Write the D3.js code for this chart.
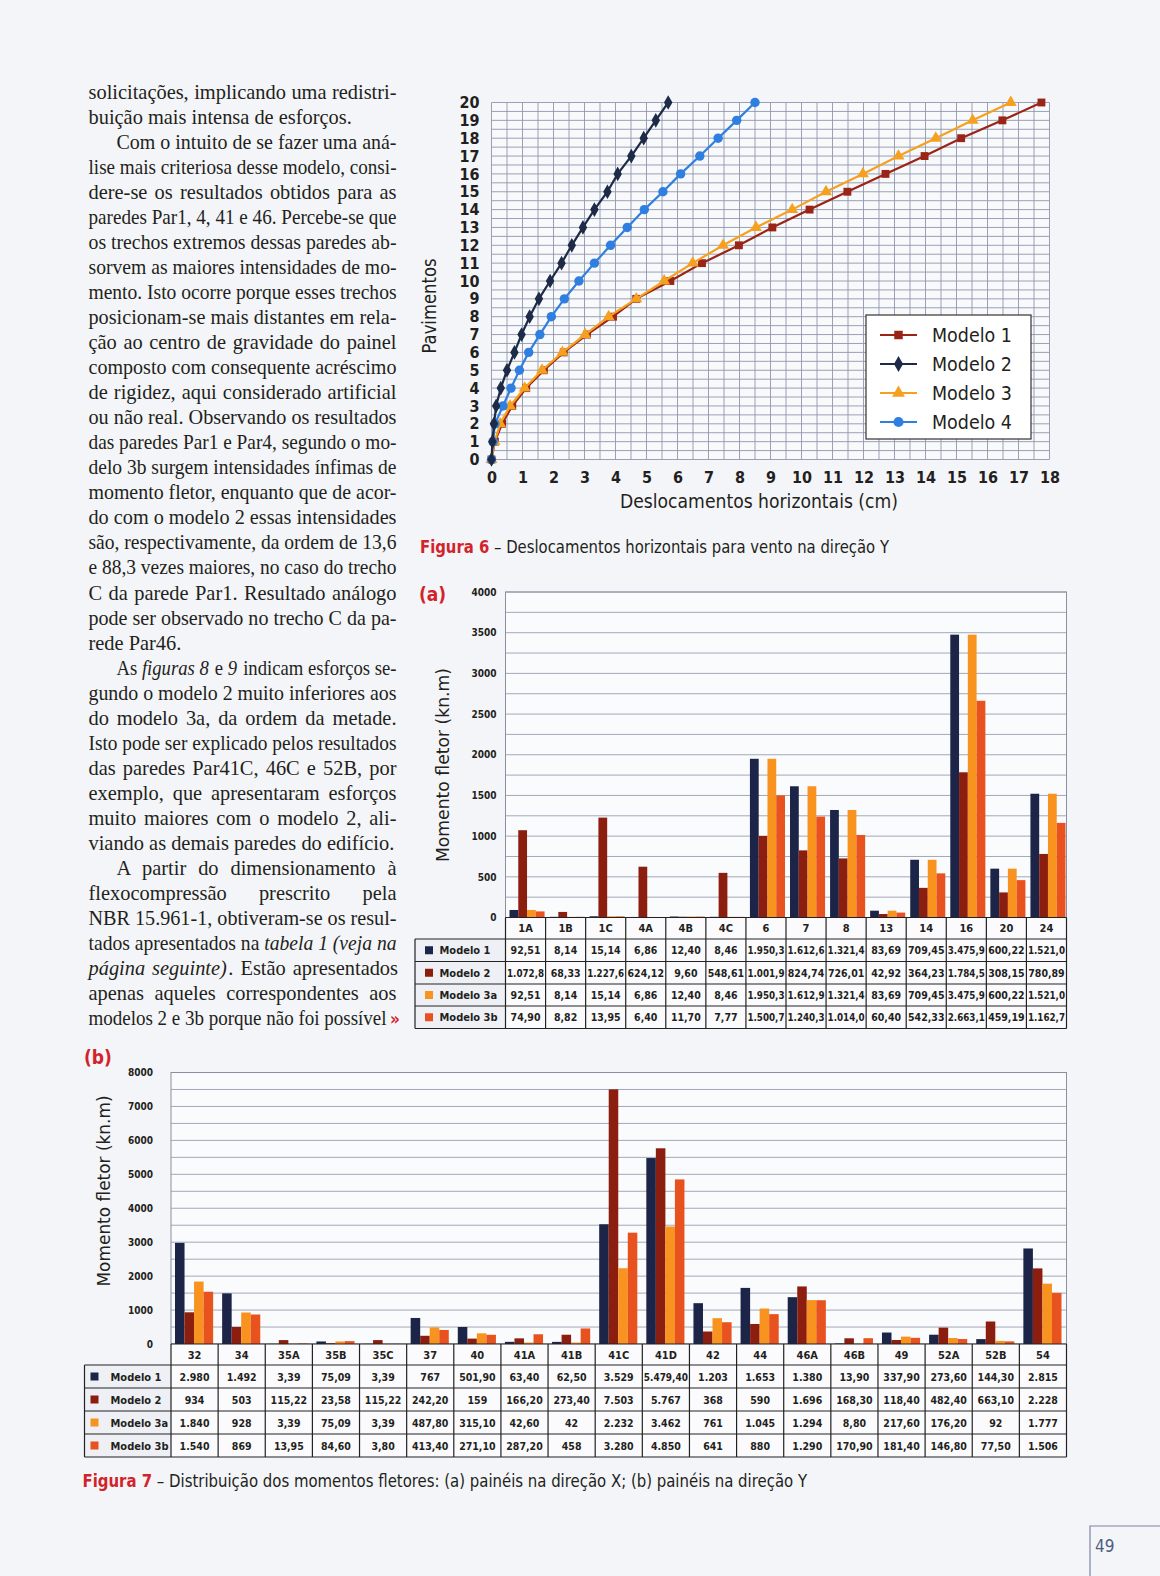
<!DOCTYPE html>
<html><head><meta charset="utf-8">
<script src="https://cdn.jsdelivr.net/npm/d3@7/dist/d3.min.js"></script>
<style>
html,body{margin:0;padding:0;background:#f4f5f8;}
svg{display:block;}
</style></head><body>
<svg id="page" width="1160" height="1576"></svg>
<script>
// ---------------- DATA ----------------
// Figure 6: horizontal displacements (cm) per floor
const floors = d3.range(0, 21);
const modelo1 = [0,0.11,0.34,0.67,1.12,1.69,2.33,3.08,3.92,4.67,5.77,6.79,7.98,9.06,10.26,11.48,12.71,13.97,15.15,16.48,17.74];
const modelo2 = [0,0.03,0.08,0.15,0.30,0.50,0.74,0.97,1.23,1.53,1.89,2.26,2.59,2.95,3.32,3.74,4.07,4.51,4.91,5.30,5.70];
const modelo3 = [0,0.10,0.28,0.60,1.07,1.63,2.29,3.02,3.78,4.67,5.57,6.49,7.47,8.53,9.70,10.79,11.98,13.13,14.33,15.52,16.75];
const modelo4 = [0,0.05,0.11,0.37,0.63,0.90,1.20,1.56,1.93,2.35,2.82,3.32,3.84,4.38,4.93,5.53,6.10,6.72,7.31,7.91,8.50];
const lineNames = ["Modelo 1","Modelo 2","Modelo 3","Modelo 4"];
const xTicks6 = d3.range(0, 19);
const yTicks6 = d3.range(0, 21);

// Figure 7(a): panels in X direction (kN.m), table text as printed
const catsA = ["1A","1B","1C","4A","4B","4C","6","7","8","13","14","16","20","24"];
const a_m1  = ["92,51","8,14","15,14","6,86","12,40","8,46","1.950,3","1.612,6","1.321,4","83,69","709,45","3.475,9","600,22","1.521,0"];
const a_m2  = ["1.072,8","68,33","1.227,6","624,12","9,60","548,61","1.001,9","824,74","726,01","42,92","364,23","1.784,5","308,15","780,89"];
const a_m3a = ["92,51","8,14","15,14","6,86","12,40","8,46","1.950,3","1.612,9","1.321,4","83,69","709,45","3.475,9","600,22","1.521,0"];
const a_m3b = ["74,90","8,82","13,95","6,40","11,70","7,77","1.500,7","1.240,3","1.014,0","60,40","542,33","2.663,1","459,19","1.162,7"];
const yTicksA = [0,500,1000,1500,2000,2500,3000,3500,4000];

// Figure 7(b): panels in Y direction (kN.m)
const catsB = ["32","34","35A","35B","35C","37","40","41A","41B","41C","41D","42","44","46A","46B","49","52A","52B","54"];
const b_m1  = ["2.980","1.492","3,39","75,09","3,39","767","501,90","63,40","62,50","3.529","5.479,40","1.203","1.653","1.380","13,90","337,90","273,60","144,30","2.815"];
const b_m2  = ["934","503","115,22","23,58","115,22","242,20","159","166,20","273,40","7.503","5.767","368","590","1.696","168,30","118,40","482,40","663,10","2.228"];
const b_m3a = ["1.840","928","3,39","75,09","3,39","487,80","315,10","42,60","42","2.232","3.462","761","1.045","1.294","8,80","217,60","176,20","92","1.777"];
const b_m3b = ["1.540","869","13,95","84,60","3,80","413,40","271,10","287,20","458","3.280","4.850","641","880","1.290","170,90","181,40","146,80","77,50","1.506"];
const yTicksB = [0,1000,2000,3000,4000,5000,6000,7000,8000];
const barNames = ["Modelo 1","Modelo 2","Modelo 3a","Modelo 3b"];

// ---------------- STYLE ----------------
const lineColors = ["#9a2416","#1d2a48","#f6a01f","#2f7fe0"];
const lineSymbols = [d3.symbolSquare, d3.symbolDiamond, d3.symbolTriangle, d3.symbolCircle];
const barColors = ["#1c2547","#8c1e0f","#f7931e","#e8521f"];
const RED = "#d2232a";
const INK = "#231f20";
const SANS = "'DejaVu Sans Condensed','DejaVu Sans',sans-serif";
const SANSW = "'DejaVu Sans','Noto Sans',sans-serif";
const SERIF = "'Liberation Serif','DejaVu Serif',serif";
const parse = s => +s.replace(/\./g, "").replace(",", ".");

const svg = d3.select("#page");

// ---------------- BODY TEXT ----------------
const bodyLines = [
 ["solicitações, implicando uma redistri-",0,1],
 ["buição mais intensa de esforços.",0,0],
 ["Com o intuito de se fazer uma aná-",1,1],
 ["lise mais criteriosa desse modelo, consi-",0,1],
 ["dere-se os resultados obtidos para as",0,1],
 ["paredes Par1, 4, 41 e 46. Percebe-se que",0,1],
 ["os trechos extremos dessas paredes ab-",0,1],
 ["sorvem as maiores intensidades de mo-",0,1],
 ["mento. Isto ocorre porque esses trechos",0,1],
 ["posicionam-se mais distantes em rela-",0,1],
 ["ção ao centro de gravidade do painel",0,1],
 ["composto com consequente acréscimo",0,1],
 ["de rigidez, aqui considerado artificial",0,1],
 ["ou não real. Observando os resultados",0,1],
 ["das paredes Par1 e Par4, segundo o mo-",0,1],
 ["delo 3b surgem intensidades ínfimas de",0,1],
 ["momento fletor, enquanto que de acor-",0,1],
 ["do com o modelo 2 essas intensidades",0,1],
 ["são, respectivamente, da ordem de 13,6",0,1],
 ["e 88,3 vezes maiores, no caso do trecho",0,1],
 ["C da parede Par1. Resultado análogo",0,1],
 ["pode ser observado no trecho C da pa-",0,1],
 ["rede Par46.",0,0],
 ["As _figuras 8_ e _9_ indicam esforços se-",1,1],
 ["gundo o modelo 2 muito inferiores aos",0,1],
 ["do modelo 3a, da ordem da metade.",0,1],
 ["Isto pode ser explicado pelos resultados",0,1],
 ["das paredes Par41C, 46C e 52B, por",0,1],
 ["exemplo, que apresentaram esforços",0,1],
 ["muito maiores com o modelo 2, ali-",0,1],
 ["viando as demais paredes do edifício.",0,0],
 ["A partir do dimensionamento à",1,1],
 ["flexocompressão prescrito pela",0,1],
 ["NBR 15.961-1, obtiveram-se os resul-",0,1],
 ["tados apresentados na _tabela 1 (veja na_",0,1],
 ["_página seguinte)_. Estão apresentados",0,1],
 ["apenas aqueles correspondentes aos",0,1],
 ["modelos 2 e 3b porque não foi possível",0,2]
];
const bodyG = svg.append("g").attr("font-family", SERIF).attr("font-size", 20.4).attr("fill", INK);
bodyLines.forEach((ln, i) => {
  const [str, indent, just] = ln;
  const x0 = indent ? 116.5 : 88.5;
  const x1 = just === 2 ? 386.5 : 396.5;
  const y = 98.5 + i * 25.05;
  const t = bodyG.append("text").attr("x", x0).attr("y", y);
  str.split("_").forEach((p, k) => {
    if (!p.length) return;
    const ts = t.append("tspan").text(p);
    if (k % 2 === 1) ts.attr("font-style", "italic");
    else if (k > 0) ts.attr("dx", 1.5);
  });
  if (just) {
    const nat = t.node().getComputedTextLength();
    const spaces = (str.match(/ /g) || []).length;
    const extra = (x1 - x0) - nat;
    if (extra >= 0 && spaces > 0) t.attr("word-spacing", extra / spaces);
    else t.attr("textLength", x1 - x0).attr("lengthAdjust", "spacingAndGlyphs");
  }
  if (just === 2) {
    bodyG.append("text").attr("x", 390).attr("y", y).attr("fill", RED).attr("font-family", SANS)
      .attr("font-weight", "bold").attr("font-size", 17).text("»");
  }
});

// ---------------- FIGURE 6 ----------------
const lx = d3.scaleLinear().domain([0, 18]).range([491.5, 1049.5]);
const ly = d3.scaleLinear().domain([0, 20]).range([459.5, 102.5]);
const g6 = svg.append("g");
g6.append("rect").attr("x", lx(0)).attr("y", ly(20)).attr("width", lx(18) - lx(0)).attr("height", ly(0) - ly(20)).attr("fill", "#f8f9fb");
g6.append("g").selectAll("line").data(d3.range(0, 18.01, 0.5)).join("line")
  .attr("x1", d => lx(d)).attr("x2", d => lx(d)).attr("y1", ly(0)).attr("y2", ly(20))
  .attr("stroke", "#8f96ae").attr("stroke-width", 0.9);
g6.append("g").selectAll("line").data(d3.range(0, 20.01, 0.5)).join("line")
  .attr("y1", d => ly(d)).attr("y2", d => ly(d)).attr("x1", lx(0)).attr("x2", lx(18))
  .attr("stroke", "#8f96ae").attr("stroke-width", 0.9);

const ax6y = g6.append("g").attr("transform", `translate(${lx(0)},0)`)
  .call(d3.axisLeft(ly).tickValues(yTicks6).tickSize(0).tickPadding(12).tickFormat(d3.format("d")));
ax6y.select(".domain").remove();
ax6y.selectAll("text").attr("font-family", SANS).attr("font-weight", "bold").attr("font-size", 16).attr("fill", INK);
const ax6x = g6.append("g").attr("transform", `translate(0,${ly(0)})`)
  .call(d3.axisBottom(lx).tickValues(xTicks6).tickSize(0).tickPadding(12).tickFormat(d3.format("d")));
ax6x.select(".domain").remove();
ax6x.selectAll("text").attr("font-family", SANS).attr("font-weight", "bold").attr("font-size", 16).attr("fill", INK);

g6.append("text").attr("x", 759).attr("y", 508).attr("text-anchor", "middle")
  .attr("font-family", SANS).attr("font-size", 19).attr("fill", INK)
  .attr("textLength", 278).attr("lengthAdjust", "spacingAndGlyphs")
  .text("Deslocamentos horizontais (cm)");
g6.append("text").attr("transform", "translate(436,306) rotate(-90)").attr("text-anchor", "middle")
  .attr("font-family", SANS).attr("font-size", 19).attr("fill", INK)
  .attr("textLength", 95).attr("lengthAdjust", "spacingAndGlyphs")
  .text("Pavimentos");

const series6 = [modelo1, modelo2, modelo3, modelo4];
const lineGen = d3.line().x(d => lx(d[0])).y(d => ly(d[1]));
const drawOrder = [0, 2, 3, 1];
drawOrder.forEach(s => {
  const pts = series6[s].map((v, i) => [v, floors[i]]);
  g6.append("path").attr("d", lineGen(pts)).attr("fill", "none").attr("stroke", lineColors[s]).attr("stroke-width", 2.2);
  g6.append("g").selectAll("path").data(pts).join("path")
    .attr("transform", d => `translate(${lx(d[0])},${ly(d[1])})`)
    .attr("d", d3.symbol().type(lineSymbols[s]).size(s === 3 ? 70 : 62))
    .attr("fill", lineColors[s]);
});
// legend
const lg = g6.append("g");
lg.append("rect").attr("x", 866).attr("y", 315).attr("width", 165).attr("height", 124)
  .attr("fill", "#ffffff").attr("stroke", "#333").attr("stroke-width", 1.2);
lineNames.forEach((n, i) => {
  const y = 335 + i * 29;
  lg.append("line").attr("x1", 880).attr("x2", 917).attr("y1", y).attr("y2", y).attr("stroke", lineColors[i]).attr("stroke-width", 2.2);
  lg.append("path").attr("transform", `translate(898.5,${y})`).attr("d", d3.symbol().type(lineSymbols[i]).size(i === 3 ? 80 : 72)).attr("fill", lineColors[i]);
  lg.append("text").attr("x", 932).attr("y", y + 7).attr("font-family", SANSW).attr("font-size", 19).attr("fill", INK)
    .attr("textLength", 80).attr("lengthAdjust", "spacingAndGlyphs").text(n);
});

// caption fig 6
const c6 = svg.append("text").attr("x", 420).attr("y", 553).attr("font-family", SANS).attr("font-size", 17)
  .attr("textLength", 469).attr("lengthAdjust", "spacingAndGlyphs").attr("fill", INK);
c6.append("tspan").attr("fill", RED).attr("font-weight", "bold").text("Figura 6");
c6.append("tspan").text(" – Deslocamentos horizontais para vento na direção Y");

// ---------------- BAR CHART + TABLE helper ----------------
function barChart(opt) {
  const { cats, series, yTicks, ymax, left, right, top, bottom, legLeft, rowTops, headerBottom,
          tickRight, titleX, titleY, titleLen, innerL, innerR, label, labelX, labelY, sqX, txX } = opt;
  const g = svg.append("g");
  const x = d3.scaleBand().domain(cats).range([left, right]).padding(0);
  const y = d3.scaleLinear().domain([0, ymax]).range([bottom, top]);
  const x1 = d3.scaleBand().domain(barNames).range([innerL, x.bandwidth() - innerR]).padding(0);
  g.append("rect").attr("x", left).attr("y", top).attr("width", right - left).attr("height", bottom - top).attr("fill", "#fafbfd");
  const step = yTicks[1] / 2;
  g.append("g").selectAll("line").data(d3.range(step, ymax + 1, step)).join("line")
    .attr("x1", left).attr("x2", right).attr("y1", d => y(d)).attr("y2", d => y(d))
    .attr("stroke", "#a3a8b8").attr("stroke-width", 1);
  g.append("rect").attr("x", left).attr("y", top).attr("width", right - left).attr("height", bottom - top)
    .attr("fill", "none").attr("stroke", "#8a8f9e").attr("stroke-width", 1);
  const ay = g.append("g").attr("transform", `translate(${left},0)`)
    .call(d3.axisLeft(y).tickValues(yTicks).tickSize(0).tickPadding(left - tickRight).tickFormat(d3.format("d")));
  ay.select(".domain").remove();
  ay.selectAll("text").attr("font-family", SANS).attr("font-weight", "bold").attr("font-size", 10).attr("fill", INK);
  g.append("text").attr("transform", `translate(${titleX},${titleY}) rotate(-90)`).attr("text-anchor", "middle")
    .attr("font-family", SANS).attr("font-size", 18).attr("fill", INK)
    .attr("textLength", titleLen).attr("lengthAdjust", "spacingAndGlyphs").text("Momento fletor (kn.m)");
  g.append("text").attr("x", labelX).attr("y", labelY).attr("font-family", SANS).attr("font-weight", "bold")
    .attr("font-size", 19).attr("fill", RED).text(label);

  series.forEach((arr, s) => {
    g.append("g").selectAll("rect").data(arr).join("rect")
      .attr("x", (d, i) => x(cats[i]) + x1(barNames[s]))
      .attr("width", x1.bandwidth())
      .attr("y", d => y(parse(d)))
      .attr("height", d => bottom - y(parse(d)))
      .attr("fill", barColors[s]);
  });

  const tg = g.append("g");
  const tableBottom = rowTops[rowTops.length - 1];
  tg.append("rect").attr("x", left).attr("y", bottom).attr("width", right - left).attr("height", headerBottom - bottom).attr("fill", "#fbfbfd");
  tg.append("rect").attr("x", legLeft).attr("y", headerBottom).attr("width", right - legLeft).attr("height", tableBottom - headerBottom).attr("fill", "#fbfbfd");
  tg.append("rect").attr("x", legLeft).attr("y", headerBottom).attr("width", left - legLeft).attr("height", tableBottom - headerBottom).attr("fill", "#eef0f5");
  tg.append("line").attr("x1", left).attr("x2", right).attr("y1", bottom).attr("y2", bottom).attr("stroke", "#222").attr("stroke-width", 1.2);
  rowTops.forEach(ry => tg.append("line").attr("x1", legLeft).attr("x2", right).attr("y1", ry).attr("y2", ry).attr("stroke", "#222").attr("stroke-width", 1.2));
  cats.forEach(c => {
    tg.append("line").attr("x1", x(c)).attr("x2", x(c)).attr("y1", bottom).attr("y2", tableBottom).attr("stroke", "#222").attr("stroke-width", 1.2);
  });
  tg.append("line").attr("x1", right).attr("x2", right).attr("y1", bottom).attr("y2", tableBottom).attr("stroke", "#222").attr("stroke-width", 1.2);
  tg.append("line").attr("x1", legLeft).attr("x2", legLeft).attr("y1", headerBottom).attr("y2", tableBottom).attr("stroke", "#222").attr("stroke-width", 1.2);
  cats.forEach(c => {
    tg.append("text").attr("x", x(c) + x.bandwidth() / 2).attr("y", (bottom + headerBottom) / 2 + 4)
      .attr("text-anchor", "middle").attr("font-family", SANS).attr("font-weight", "bold").attr("font-size", 11).attr("fill", INK).text(c);
  });
  series.forEach((arr, s) => {
    const ry0 = rowTops[s], ry1 = rowTops[s + 1], cy = (ry0 + ry1) / 2;
    tg.append("rect").attr("x", sqX).attr("y", cy - 4).attr("width", 8).attr("height", 8).attr("fill", barColors[s]);
    tg.append("text").attr("x", txX).attr("y", cy + 4).attr("font-family", SANS).attr("font-weight", "bold")
      .attr("font-size", 11).attr("fill", INK).text(barNames[s]);
    arr.forEach((v, i) => {
      const t = tg.append("text").attr("x", x(cats[i]) + x.bandwidth() / 2).attr("y", cy + 4)
        .attr("text-anchor", "middle").attr("font-family", SANS).attr("font-weight", "bold")
        .attr("font-size", 10.5).attr("fill", INK).text(v);
      const w = t.node().getComputedTextLength();
      if (w > x.bandwidth() - 3) t.attr("textLength", x.bandwidth() - 3).attr("lengthAdjust", "spacingAndGlyphs");
    });
  });
}

barChart({
  cats: catsA, series: [a_m1, a_m2, a_m3a, a_m3b], yTicks: yTicksA, ymax: 4000,
  left: 505.5, right: 1066.5, top: 592, bottom: 917.5, legLeft: 415,
  headerBottom: 939, rowTops: [939, 961.5, 984, 1006, 1028.5],
  tickRight: 496.5, titleX: 449, titleY: 765, titleLen: 194, innerL: 4, innerR: 1,
  label: "(a)", labelX: 419, labelY: 601, sqX: 425, txX: 439.5
});
barChart({
  cats: catsB, series: [b_m1, b_m2, b_m3a, b_m3b], yTicks: yTicksB, ymax: 8000,
  left: 171, right: 1066.5, top: 1072.5, bottom: 1344, legLeft: 84.5,
  headerBottom: 1365, rowTops: [1365, 1388, 1411, 1434, 1457],
  tickRight: 153, titleX: 110, titleY: 1191, titleLen: 191, innerL: 4, innerR: 5,
  label: "(b)", labelX: 84, labelY: 1064, sqX: 90.5, txX: 110.5
});

// caption fig 7
const c7 = svg.append("text").attr("x", 82.5).attr("y", 1486.5).attr("font-family", SANS).attr("font-size", 17)
  .attr("textLength", 724.5).attr("lengthAdjust", "spacingAndGlyphs").attr("fill", INK);
c7.append("tspan").attr("fill", RED).attr("font-weight", "bold").text("Figura 7");
c7.append("tspan").text(" – Distribuição dos momentos fletores: (a) painéis na direção X; (b) painéis na direção Y");

// page number
svg.append("path").attr("d", "M1160,1526 H1090 V1576").attr("fill", "none").attr("stroke", "#7c86a3").attr("stroke-width", 1.2);
svg.append("text").attr("x", 1095).attr("y", 1552).attr("font-family", SANS).attr("font-size", 17).attr("fill", "#4f5d80").text("49");
</script>
</body></html>
